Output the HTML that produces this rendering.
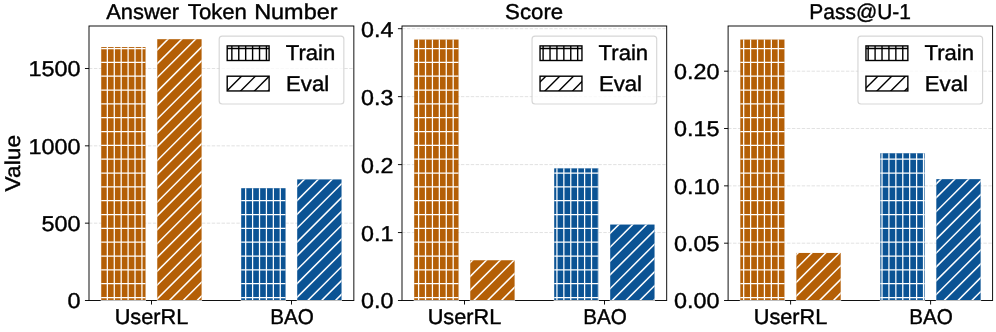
<!DOCTYPE html>
<html><head><meta charset="utf-8"><title>chart</title><style>html,body{margin:0;padding:0;background:#fff;overflow:hidden}svg{display:block;will-change:transform}text{stroke:#000;stroke-width:0.4px;text-rendering:geometricPrecision}</style></head><body>
<svg width="996" height="332" viewBox="0 0 996 332">
<rect width="996" height="332" fill="#fff"/>
<g font-family="'Liberation Sans', sans-serif" font-size="21.4" fill="#000">
<path d="M89.00 223.17H353.85" stroke="#b0b0b0" stroke-opacity="0.4" stroke-width="0.93" stroke-dasharray="3.43 1.48" fill="none"/>
<path d="M89.00 145.83H353.85" stroke="#b0b0b0" stroke-opacity="0.4" stroke-width="0.93" stroke-dasharray="3.43 1.48" fill="none"/>
<path d="M89.00 68.50H353.85" stroke="#b0b0b0" stroke-opacity="0.4" stroke-width="0.93" stroke-dasharray="3.43 1.48" fill="none"/>
<rect x="89.00" y="26.00" width="264.85" height="274.50" fill="none" stroke="#000" stroke-width="0.93"/>
<path d="M84.95 300.50H89.00" stroke="#000" stroke-width="0.93"/>
<path d="M84.95 223.17H89.00" stroke="#000" stroke-width="0.93"/>
<path d="M84.95 145.83H89.00" stroke="#000" stroke-width="0.93"/>
<path d="M84.95 68.50H89.00" stroke="#000" stroke-width="0.93"/>
<path d="M151.50 300.50V304.55" stroke="#000" stroke-width="0.93"/>
<path d="M291.50 300.50V304.55" stroke="#000" stroke-width="0.93"/>
<rect x="101.20" y="47.10" width="44.35" height="252.90" fill="#b45f06"/>
<clipPath id="c1"><rect x="101.20" y="47.10" width="44.35" height="252.90"/></clipPath><g clip-path="url(#c1)" stroke="#fff" stroke-width="1.25" fill="none"><path d="M100.43 45.10V302.00"/><path d="M107.35 45.10V302.00"/><path d="M114.27 45.10V302.00"/><path d="M121.18 45.10V302.00"/><path d="M128.10 45.10V302.00"/><path d="M135.02 45.10V302.00"/><path d="M141.93 45.10V302.00"/><path d="M99.20 48.50H147.55"/><path d="M99.20 62.33H147.55"/><path d="M99.20 76.17H147.55"/><path d="M99.20 90.00H147.55"/><path d="M99.20 103.83H147.55"/><path d="M99.20 117.67H147.55"/><path d="M99.20 131.50H147.55"/><path d="M99.20 145.33H147.55"/><path d="M99.20 159.17H147.55"/><path d="M99.20 173.00H147.55"/><path d="M99.20 186.83H147.55"/><path d="M99.20 200.67H147.55"/><path d="M99.20 214.50H147.55"/><path d="M99.20 228.33H147.55"/><path d="M99.20 242.17H147.55"/><path d="M99.20 256.00H147.55"/><path d="M99.20 269.83H147.55"/><path d="M99.20 283.67H147.55"/><path d="M99.20 297.50H147.55"/></g>
<path d="M100.70 300.50H146.05" stroke="#fff" stroke-opacity="0.72" stroke-width="1.0"/>
<rect x="157.25" y="39.20" width="44.35" height="260.80" fill="#b45f06"/>
<clipPath id="c2"><rect x="157.25" y="39.20" width="44.35" height="260.80"/></clipPath><g clip-path="url(#c2)" stroke="#fff" stroke-width="1.5" fill="none"><path d="M155.25 51.85L203.60 3.50"/><path d="M155.25 65.68L203.60 17.33"/><path d="M155.25 79.52L203.60 31.17"/><path d="M155.25 93.35L203.60 45.00"/><path d="M155.25 107.18L203.60 58.83"/><path d="M155.25 121.02L203.60 72.67"/><path d="M155.25 134.85L203.60 86.50"/><path d="M155.25 148.68L203.60 100.33"/><path d="M155.25 162.52L203.60 114.17"/><path d="M155.25 176.35L203.60 128.00"/><path d="M155.25 190.18L203.60 141.83"/><path d="M155.25 204.02L203.60 155.67"/><path d="M155.25 217.85L203.60 169.50"/><path d="M155.25 231.68L203.60 183.33"/><path d="M155.25 245.52L203.60 197.17"/><path d="M155.25 259.35L203.60 211.00"/><path d="M155.25 273.18L203.60 224.83"/><path d="M155.25 287.02L203.60 238.67"/><path d="M155.25 300.85L203.60 252.50"/><path d="M155.25 314.68L203.60 266.33"/><path d="M155.25 328.52L203.60 280.17"/><path d="M155.25 342.35L203.60 294.00"/></g>
<path d="M156.75 300.50H202.10" stroke="#fff" stroke-opacity="0.72" stroke-width="1.0"/>
<rect x="241.20" y="188.20" width="44.35" height="111.80" fill="#0b5394"/>
<clipPath id="c3"><rect x="241.20" y="188.20" width="44.35" height="111.80"/></clipPath><g clip-path="url(#c3)" stroke="#fff" stroke-width="1.25" fill="none"><path d="M245.68 186.20V302.00"/><path d="M252.60 186.20V302.00"/><path d="M259.52 186.20V302.00"/><path d="M266.43 186.20V302.00"/><path d="M273.35 186.20V302.00"/><path d="M280.27 186.20V302.00"/><path d="M287.18 186.20V302.00"/><path d="M239.20 186.83H287.55"/><path d="M239.20 200.67H287.55"/><path d="M239.20 214.50H287.55"/><path d="M239.20 228.33H287.55"/><path d="M239.20 242.17H287.55"/><path d="M239.20 256.00H287.55"/><path d="M239.20 269.83H287.55"/><path d="M239.20 283.67H287.55"/><path d="M239.20 297.50H287.55"/></g>
<path d="M240.70 300.50H286.05" stroke="#fff" stroke-opacity="0.72" stroke-width="1.0"/>
<rect x="297.20" y="179.40" width="44.35" height="120.60" fill="#0b5394"/>
<clipPath id="c4"><rect x="297.20" y="179.40" width="44.35" height="120.60"/></clipPath><g clip-path="url(#c4)" stroke="#fff" stroke-width="1.5" fill="none"><path d="M295.20 188.57L343.55 140.22"/><path d="M295.20 202.40L343.55 154.05"/><path d="M295.20 216.23L343.55 167.88"/><path d="M295.20 230.07L343.55 181.72"/><path d="M295.20 243.90L343.55 195.55"/><path d="M295.20 257.73L343.55 209.38"/><path d="M295.20 271.57L343.55 223.22"/><path d="M295.20 285.40L343.55 237.05"/><path d="M295.20 299.23L343.55 250.88"/><path d="M295.20 313.07L343.55 264.72"/><path d="M295.20 326.90L343.55 278.55"/><path d="M295.20 340.73L343.55 292.38"/></g>
<path d="M296.70 300.50H342.05" stroke="#fff" stroke-opacity="0.72" stroke-width="1.0"/>
<rect x="219.20" y="36.10" width="124.65" height="67.90" rx="3" fill="#fff" fill-opacity="0.8" stroke="#ccc" stroke-opacity="0.8" stroke-width="1.15"/>
<rect x="227.20" y="45.90" width="41.90" height="14.60" fill="#fff"/>
<clipPath id="c5"><rect x="227.20" y="45.90" width="41.90" height="14.60"/></clipPath><g clip-path="url(#c5)" stroke="#000" stroke-width="1.4" fill="none"><path d="M231.85 43.90V62.50"/><path d="M238.77 43.90V62.50"/><path d="M245.68 43.90V62.50"/><path d="M252.60 43.90V62.50"/><path d="M259.52 43.90V62.50"/><path d="M266.43 43.90V62.50"/><path d="M225.20 48.50H271.10"/><path d="M225.20 62.33H271.10"/></g>
<rect x="227.20" y="45.90" width="41.90" height="14.60" fill="none" stroke="#000" stroke-width="1.4"/>
<rect x="227.20" y="76.20" width="41.90" height="14.75" fill="#fff"/>
<clipPath id="c6"><rect x="227.20" y="76.20" width="41.90" height="14.75"/></clipPath><g clip-path="url(#c6)" stroke="#000" stroke-width="1.4" fill="none"><path d="M225.20 78.73L271.10 32.83"/><path d="M225.20 92.57L271.10 46.67"/><path d="M225.20 106.40L271.10 60.50"/><path d="M225.20 120.23L271.10 74.33"/><path d="M225.20 134.07L271.10 88.17"/></g>
<rect x="227.20" y="76.20" width="41.90" height="14.75" fill="none" stroke="#000" stroke-width="1.4"/>
<text transform="translate(285.74,60.30) scale(1.0344,1.0)" >Train</text>
<text transform="translate(286.05,90.80) scale(1.0359,1.0)" >Eval</text>
<text transform="translate(106.26,18.70) scale(1.0210,1.0)" >Answer</text>
<text transform="translate(187.84,18.70) scale(1.0350,1.0)" >Token</text>
<text transform="translate(254.16,18.70) scale(1.0953,1.0)" >Number</text>
<text transform="translate(114.68,323.90) scale(1.0142,1.0)" >UserRL</text>
<text transform="translate(270.15,323.90) scale(0.9661,1.0)" >BAO</text>
<text transform="translate(67.53,308.45) scale(1.0945,1.0)" >0</text>
<text transform="translate(41.48,231.12) scale(1.0945,1.0)" >500</text>
<text transform="translate(28.46,153.78) scale(1.0945,1.0)" >1000</text>
<text transform="translate(28.46,76.45) scale(1.0945,1.0)" >1500</text>
<path d="M402.00 232.55H666.70" stroke="#b0b0b0" stroke-opacity="0.4" stroke-width="0.93" stroke-dasharray="3.43 1.48" fill="none"/>
<path d="M402.00 164.60H666.70" stroke="#b0b0b0" stroke-opacity="0.4" stroke-width="0.93" stroke-dasharray="3.43 1.48" fill="none"/>
<path d="M402.00 96.65H666.70" stroke="#b0b0b0" stroke-opacity="0.4" stroke-width="0.93" stroke-dasharray="3.43 1.48" fill="none"/>
<path d="M402.00 28.70H666.70" stroke="#b0b0b0" stroke-opacity="0.4" stroke-width="0.93" stroke-dasharray="3.43 1.48" fill="none"/>
<rect x="402.00" y="26.00" width="264.70" height="274.50" fill="none" stroke="#000" stroke-width="0.93"/>
<path d="M397.95 300.50H402.00" stroke="#000" stroke-width="0.93"/>
<path d="M397.95 232.55H402.00" stroke="#000" stroke-width="0.93"/>
<path d="M397.95 164.60H402.00" stroke="#000" stroke-width="0.93"/>
<path d="M397.95 96.65H402.00" stroke="#000" stroke-width="0.93"/>
<path d="M397.95 28.70H402.00" stroke="#000" stroke-width="0.93"/>
<path d="M464.50 300.50V304.55" stroke="#000" stroke-width="0.93"/>
<path d="M604.50 300.50V304.55" stroke="#000" stroke-width="0.93"/>
<rect x="414.20" y="39.55" width="44.35" height="260.45" fill="#b45f06"/>
<clipPath id="c7"><rect x="414.20" y="39.55" width="44.35" height="260.45"/></clipPath><g clip-path="url(#c7)" stroke="#fff" stroke-width="1.25" fill="none"><path d="M418.60 37.55V302.00"/><path d="M425.52 37.55V302.00"/><path d="M432.43 37.55V302.00"/><path d="M439.35 37.55V302.00"/><path d="M446.27 37.55V302.00"/><path d="M453.18 37.55V302.00"/><path d="M460.10 37.55V302.00"/><path d="M412.20 48.50H460.55"/><path d="M412.20 62.33H460.55"/><path d="M412.20 76.17H460.55"/><path d="M412.20 90.00H460.55"/><path d="M412.20 103.83H460.55"/><path d="M412.20 117.67H460.55"/><path d="M412.20 131.50H460.55"/><path d="M412.20 145.33H460.55"/><path d="M412.20 159.17H460.55"/><path d="M412.20 173.00H460.55"/><path d="M412.20 186.83H460.55"/><path d="M412.20 200.67H460.55"/><path d="M412.20 214.50H460.55"/><path d="M412.20 228.33H460.55"/><path d="M412.20 242.17H460.55"/><path d="M412.20 256.00H460.55"/><path d="M412.20 269.83H460.55"/><path d="M412.20 283.67H460.55"/><path d="M412.20 297.50H460.55"/></g>
<path d="M413.70 300.50H459.05" stroke="#fff" stroke-opacity="0.72" stroke-width="1.0"/>
<rect x="470.25" y="260.25" width="44.35" height="39.75" fill="#b45f06"/>
<clipPath id="c8"><rect x="470.25" y="260.25" width="44.35" height="39.75"/></clipPath><g clip-path="url(#c8)" stroke="#fff" stroke-width="1.5" fill="none"><path d="M468.25 264.52L516.60 216.17"/><path d="M468.25 278.35L516.60 230.00"/><path d="M468.25 292.18L516.60 243.83"/><path d="M468.25 306.02L516.60 257.67"/><path d="M468.25 319.85L516.60 271.50"/><path d="M468.25 333.68L516.60 285.33"/><path d="M468.25 347.52L516.60 299.17"/></g>
<path d="M469.75 300.50H515.10" stroke="#fff" stroke-opacity="0.72" stroke-width="1.0"/>
<rect x="554.20" y="168.35" width="44.35" height="131.65" fill="#0b5394"/>
<clipPath id="c9"><rect x="554.20" y="168.35" width="44.35" height="131.65"/></clipPath><g clip-path="url(#c9)" stroke="#fff" stroke-width="1.25" fill="none"><path d="M556.93 166.35V302.00"/><path d="M563.85 166.35V302.00"/><path d="M570.77 166.35V302.00"/><path d="M577.68 166.35V302.00"/><path d="M584.60 166.35V302.00"/><path d="M591.52 166.35V302.00"/><path d="M598.43 166.35V302.00"/><path d="M552.20 173.00H600.55"/><path d="M552.20 186.83H600.55"/><path d="M552.20 200.67H600.55"/><path d="M552.20 214.50H600.55"/><path d="M552.20 228.33H600.55"/><path d="M552.20 242.17H600.55"/><path d="M552.20 256.00H600.55"/><path d="M552.20 269.83H600.55"/><path d="M552.20 283.67H600.55"/><path d="M552.20 297.50H600.55"/></g>
<path d="M553.70 300.50H599.05" stroke="#fff" stroke-opacity="0.72" stroke-width="1.0"/>
<rect x="610.20" y="224.55" width="44.35" height="75.45" fill="#0b5394"/>
<clipPath id="c10"><rect x="610.20" y="224.55" width="44.35" height="75.45"/></clipPath><g clip-path="url(#c10)" stroke="#fff" stroke-width="1.5" fill="none"><path d="M608.20 235.23L656.55 186.88"/><path d="M608.20 249.07L656.55 200.72"/><path d="M608.20 262.90L656.55 214.55"/><path d="M608.20 276.73L656.55 228.38"/><path d="M608.20 290.57L656.55 242.22"/><path d="M608.20 304.40L656.55 256.05"/><path d="M608.20 318.23L656.55 269.88"/><path d="M608.20 332.07L656.55 283.72"/><path d="M608.20 345.90L656.55 297.55"/></g>
<path d="M609.70 300.50H655.05" stroke="#fff" stroke-opacity="0.72" stroke-width="1.0"/>
<rect x="532.05" y="36.10" width="124.65" height="67.90" rx="3" fill="#fff" fill-opacity="0.8" stroke="#ccc" stroke-opacity="0.8" stroke-width="1.15"/>
<rect x="540.05" y="45.90" width="41.90" height="14.60" fill="#fff"/>
<clipPath id="c11"><rect x="540.05" y="45.90" width="41.90" height="14.60"/></clipPath><g clip-path="url(#c11)" stroke="#000" stroke-width="1.4" fill="none"><path d="M543.10 43.90V62.50"/><path d="M550.02 43.90V62.50"/><path d="M556.93 43.90V62.50"/><path d="M563.85 43.90V62.50"/><path d="M570.77 43.90V62.50"/><path d="M577.68 43.90V62.50"/><path d="M538.05 48.50H583.95"/><path d="M538.05 62.33H583.95"/></g>
<rect x="540.05" y="45.90" width="41.90" height="14.60" fill="none" stroke="#000" stroke-width="1.4"/>
<rect x="540.05" y="76.20" width="41.90" height="14.75" fill="#fff"/>
<clipPath id="c12"><rect x="540.05" y="76.20" width="41.90" height="14.75"/></clipPath><g clip-path="url(#c12)" stroke="#000" stroke-width="1.4" fill="none"><path d="M538.05 84.05L583.95 38.15"/><path d="M538.05 97.88L583.95 51.98"/><path d="M538.05 111.72L583.95 65.82"/><path d="M538.05 125.55L583.95 79.65"/></g>
<rect x="540.05" y="76.20" width="41.90" height="14.75" fill="none" stroke="#000" stroke-width="1.4"/>
<text transform="translate(598.59,60.30) scale(1.0344,1.0)" >Train</text>
<text transform="translate(598.90,90.80) scale(1.0359,1.0)" >Eval</text>
<text transform="translate(505.12,18.70) scale(1.0385,1.0)" >Score</text>
<text transform="translate(427.68,323.90) scale(1.0142,1.0)" >UserRL</text>
<text transform="translate(583.15,323.90) scale(0.9661,1.0)" >BAO</text>
<text transform="translate(360.98,308.45) scale(1.0877,1.0)" >0.0</text>
<text transform="translate(360.98,240.50) scale(1.0877,1.0)" >0.1</text>
<text transform="translate(360.98,172.55) scale(1.0877,1.0)" >0.2</text>
<text transform="translate(360.98,104.60) scale(1.0877,1.0)" >0.3</text>
<text transform="translate(360.98,36.65) scale(1.0877,1.0)" >0.4</text>
<path d="M728.10 243.20H992.60" stroke="#b0b0b0" stroke-opacity="0.4" stroke-width="0.93" stroke-dasharray="3.43 1.48" fill="none"/>
<path d="M728.10 185.85H992.60" stroke="#b0b0b0" stroke-opacity="0.4" stroke-width="0.93" stroke-dasharray="3.43 1.48" fill="none"/>
<path d="M728.10 128.50H992.60" stroke="#b0b0b0" stroke-opacity="0.4" stroke-width="0.93" stroke-dasharray="3.43 1.48" fill="none"/>
<path d="M728.10 71.20H992.60" stroke="#b0b0b0" stroke-opacity="0.4" stroke-width="0.93" stroke-dasharray="3.43 1.48" fill="none"/>
<rect x="728.10" y="26.00" width="264.50" height="274.50" fill="none" stroke="#000" stroke-width="0.93"/>
<path d="M724.05 300.50H728.10" stroke="#000" stroke-width="0.93"/>
<path d="M724.05 243.20H728.10" stroke="#000" stroke-width="0.93"/>
<path d="M724.05 185.85H728.10" stroke="#000" stroke-width="0.93"/>
<path d="M724.05 128.50H728.10" stroke="#000" stroke-width="0.93"/>
<path d="M724.05 71.20H728.10" stroke="#000" stroke-width="0.93"/>
<path d="M790.60 300.50V304.55" stroke="#000" stroke-width="0.93"/>
<path d="M930.60 300.50V304.55" stroke="#000" stroke-width="0.93"/>
<rect x="740.30" y="39.55" width="44.35" height="260.45" fill="#b45f06"/>
<clipPath id="c13"><rect x="740.30" y="39.55" width="44.35" height="260.45"/></clipPath><g clip-path="url(#c13)" stroke="#fff" stroke-width="1.25" fill="none"><path d="M743.68 37.55V302.00"/><path d="M750.60 37.55V302.00"/><path d="M757.52 37.55V302.00"/><path d="M764.43 37.55V302.00"/><path d="M771.35 37.55V302.00"/><path d="M778.27 37.55V302.00"/><path d="M785.18 37.55V302.00"/><path d="M738.30 48.50H786.65"/><path d="M738.30 62.33H786.65"/><path d="M738.30 76.17H786.65"/><path d="M738.30 90.00H786.65"/><path d="M738.30 103.83H786.65"/><path d="M738.30 117.67H786.65"/><path d="M738.30 131.50H786.65"/><path d="M738.30 145.33H786.65"/><path d="M738.30 159.17H786.65"/><path d="M738.30 173.00H786.65"/><path d="M738.30 186.83H786.65"/><path d="M738.30 200.67H786.65"/><path d="M738.30 214.50H786.65"/><path d="M738.30 228.33H786.65"/><path d="M738.30 242.17H786.65"/><path d="M738.30 256.00H786.65"/><path d="M738.30 269.83H786.65"/><path d="M738.30 283.67H786.65"/><path d="M738.30 297.50H786.65"/></g>
<path d="M739.80 300.50H785.15" stroke="#fff" stroke-opacity="0.72" stroke-width="1.0"/>
<rect x="796.35" y="252.95" width="44.35" height="47.05" fill="#b45f06"/>
<clipPath id="c14"><rect x="796.35" y="252.95" width="44.35" height="47.05"/></clipPath><g clip-path="url(#c14)" stroke="#fff" stroke-width="1.5" fill="none"><path d="M794.35 256.58L842.70 208.23"/><path d="M794.35 270.42L842.70 222.07"/><path d="M794.35 284.25L842.70 235.90"/><path d="M794.35 298.08L842.70 249.73"/><path d="M794.35 311.92L842.70 263.57"/><path d="M794.35 325.75L842.70 277.40"/><path d="M794.35 339.58L842.70 291.23"/></g>
<path d="M795.85 300.50H841.20" stroke="#fff" stroke-opacity="0.72" stroke-width="1.0"/>
<rect x="880.30" y="153.25" width="44.35" height="146.75" fill="#0b5394"/>
<clipPath id="c15"><rect x="880.30" y="153.25" width="44.35" height="146.75"/></clipPath><g clip-path="url(#c15)" stroke="#fff" stroke-width="1.25" fill="none"><path d="M882.02 151.25V302.00"/><path d="M888.93 151.25V302.00"/><path d="M895.85 151.25V302.00"/><path d="M902.77 151.25V302.00"/><path d="M909.68 151.25V302.00"/><path d="M916.60 151.25V302.00"/><path d="M923.52 151.25V302.00"/><path d="M878.30 159.17H926.65"/><path d="M878.30 173.00H926.65"/><path d="M878.30 186.83H926.65"/><path d="M878.30 200.67H926.65"/><path d="M878.30 214.50H926.65"/><path d="M878.30 228.33H926.65"/><path d="M878.30 242.17H926.65"/><path d="M878.30 256.00H926.65"/><path d="M878.30 269.83H926.65"/><path d="M878.30 283.67H926.65"/><path d="M878.30 297.50H926.65"/></g>
<path d="M879.80 300.50H925.15" stroke="#fff" stroke-opacity="0.72" stroke-width="1.0"/>
<rect x="936.30" y="179.15" width="44.35" height="120.85" fill="#0b5394"/>
<clipPath id="c16"><rect x="936.30" y="179.15" width="44.35" height="120.85"/></clipPath><g clip-path="url(#c16)" stroke="#fff" stroke-width="1.5" fill="none"><path d="M934.30 185.80L982.65 137.45"/><path d="M934.30 199.63L982.65 151.28"/><path d="M934.30 213.47L982.65 165.12"/><path d="M934.30 227.30L982.65 178.95"/><path d="M934.30 241.13L982.65 192.78"/><path d="M934.30 254.97L982.65 206.62"/><path d="M934.30 268.80L982.65 220.45"/><path d="M934.30 282.63L982.65 234.28"/><path d="M934.30 296.47L982.65 248.12"/><path d="M934.30 310.30L982.65 261.95"/><path d="M934.30 324.13L982.65 275.78"/><path d="M934.30 337.97L982.65 289.62"/></g>
<path d="M935.80 300.50H981.15" stroke="#fff" stroke-opacity="0.72" stroke-width="1.0"/>
<rect x="857.95" y="36.10" width="124.65" height="67.90" rx="3" fill="#fff" fill-opacity="0.8" stroke="#ccc" stroke-opacity="0.8" stroke-width="1.15"/>
<rect x="865.95" y="45.90" width="41.90" height="14.60" fill="#fff"/>
<clipPath id="c17"><rect x="865.95" y="45.90" width="41.90" height="14.60"/></clipPath><g clip-path="url(#c17)" stroke="#000" stroke-width="1.4" fill="none"><path d="M868.18 43.90V62.50"/><path d="M875.10 43.90V62.50"/><path d="M882.02 43.90V62.50"/><path d="M888.93 43.90V62.50"/><path d="M895.85 43.90V62.50"/><path d="M902.77 43.90V62.50"/><path d="M909.68 43.90V62.50"/><path d="M863.95 48.50H909.85"/><path d="M863.95 62.33H909.85"/></g>
<rect x="865.95" y="45.90" width="41.90" height="14.60" fill="none" stroke="#000" stroke-width="1.4"/>
<rect x="865.95" y="76.20" width="41.90" height="14.75" fill="#fff"/>
<clipPath id="c18"><rect x="865.95" y="76.20" width="41.90" height="14.75"/></clipPath><g clip-path="url(#c18)" stroke="#000" stroke-width="1.4" fill="none"><path d="M863.95 76.32L909.85 30.42"/><path d="M863.95 90.15L909.85 44.25"/><path d="M863.95 103.98L909.85 58.08"/><path d="M863.95 117.82L909.85 71.92"/><path d="M863.95 131.65L909.85 85.75"/></g>
<rect x="865.95" y="76.20" width="41.90" height="14.75" fill="none" stroke="#000" stroke-width="1.4"/>
<text transform="translate(924.49,60.30) scale(1.0344,1.0)" >Train</text>
<text transform="translate(924.80,90.80) scale(1.0359,1.0)" >Eval</text>
<text transform="translate(809.33,18.70) scale(0.9798,1.0)" >Pass&#64;U-1</text>
<text transform="translate(753.78,323.90) scale(1.0142,1.0)" >UserRL</text>
<text transform="translate(909.25,323.90) scale(0.9661,1.0)" >BAO</text>
<text transform="translate(673.88,308.45) scale(1.0932,1.0)" >0.00</text>
<text transform="translate(673.88,251.15) scale(1.0932,1.0)" >0.05</text>
<text transform="translate(673.88,193.80) scale(1.0932,1.0)" >0.10</text>
<text transform="translate(673.88,136.45) scale(1.0932,1.0)" >0.15</text>
<text transform="translate(673.88,79.15) scale(1.0932,1.0)" >0.20</text>
<text transform="translate(20.0,191.40) rotate(-90) scale(1.0629,1.0)">Value</text>
</g></svg>
</body></html>
